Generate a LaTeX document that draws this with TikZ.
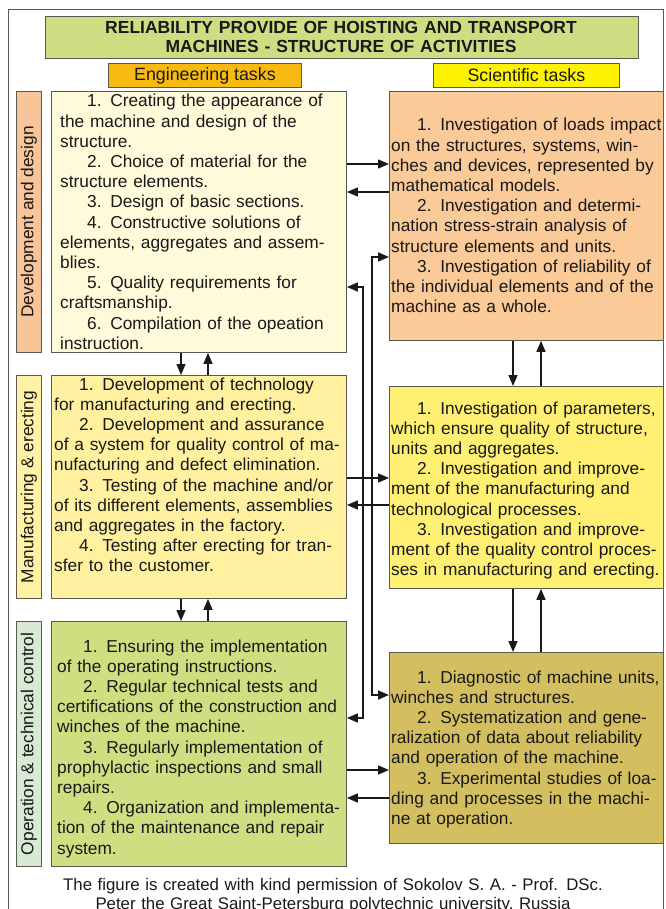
\documentclass[tikz,border=0pt]{standalone}
\usepackage{fontspec}
\setmainfont{Liberation Sans}
\usetikzlibrary{arrows.meta}
\definecolor{titlegreen}{RGB}{206,221,130}
\definecolor{engorange}{RGB}{248,186,16}
\definecolor{sciyellow}{RGB}{255,242,0}
\definecolor{sideA}{RGB}{248,196,154}
\definecolor{leftA}{RGB}{255,250,218}
\definecolor{rightA}{RGB}{250,202,152}
\definecolor{sideB}{RGB}{255,242,165}
\definecolor{leftB}{RGB}{255,241,160}
\definecolor{rightB}{RGB}{255,240,115}
\definecolor{sideC}{RGB}{214,234,212}
\definecolor{leftC}{RGB}{206,223,130}
\definecolor{rightC}{RGB}{211,191,96}
\definecolor{edge}{RGB}{90,90,80}
\definecolor{ink}{RGB}{25,25,25}
\begin{document}
\begin{tikzpicture}[x=1pt,y=-1pt,
  box/.style={draw=edge, line width=0.9pt, anchor=north west, inner sep=0pt},
  txt/.style={anchor=base west, inner sep=0pt, align=left, text=ink,
    font=\fontsize{17.3}{20.2}\selectfont},
  sidetxt/.style={rotate=90, inner sep=0pt, text=ink, font=\fontsize{17.3}{20}\selectfont},
  arr/.style={draw=ink, line width=1.4pt, -{Triangle[length=11pt,width=9pt]}},
  arrb/.style={draw=ink, line width=1.6pt, {Triangle[length=11pt,width=9pt]}-{Triangle[length=11pt,width=9pt]}}
]
\useasboundingbox (0,0) rectangle (665,909);
% outer frame
\draw[edge, line width=0.8pt] (8,9) rectangle (663.5,930);

% title and headers
\node[box, fill=titlegreen, minimum width=593pt, minimum height=42pt] (title) at (45,16) {};
\node[inner sep=0pt, text width=590pt, align=center, text=ink, font=\bfseries\fontsize{17.5}{19}\selectfont, anchor=base]
  (titletxt) at (341,34) {RELIABILITY PROVIDE OF HOISTING AND TRANSPORT\\MACHINES - STRUCTURE OF ACTIVITIES};
\node[box, fill=engorange, minimum width=193pt, minimum height=24pt] (eng) at (108,63) {};
\node[inner sep=0pt, text=ink, font=\fontsize{17.8}{20}\selectfont] (engtxt) at (eng.center) {Engineering tasks};
\node[box, fill=sciyellow, minimum width=186pt, minimum height=24pt] (sci) at (433,63) {};
\node[inner sep=0pt, text=ink, font=\fontsize{17.8}{20}\selectfont] (scitxt) at (sci.center) {Scientific tasks};

% side labels
\node[box, fill=sideA, minimum width=25pt, minimum height=261pt] (S1) at (16,91) {};
\node[sidetxt] (S1t) at (S1.center) {Development and design};
\node[box, fill=sideB, minimum width=25pt, minimum height=223pt] (S2) at (16,375) {};
\node[sidetxt] (S2t) at (S2.center) {Manufacturing \& erecting};
\node[box, fill=sideC, minimum width=25pt, minimum height=245pt] (S3) at (16,621) {};
\node[sidetxt] (S3t) at (S3.center) {Operation \& technical control};

% left boxes
\node[box, fill=leftA, minimum width=295pt, minimum height=261pt] (L1) at (51,91) {};
\node[txt, text width=300pt] (L1t) at (60,107) {%
\hspace*{27pt}1. Creating the appearance of\\
the machine and design of the\\
structure.\\
\hspace*{27pt}2. Choice of material for the\\
structure elements.\\
\hspace*{27pt}3. Design of basic sections.\\
\hspace*{27pt}4. Constructive solutions of\\
elements, aggregates and assem-\\
blies.\\
\hspace*{27pt}5. Quality requirements for\\
craftsmanship.\\
\hspace*{27pt}6. Compilation of the opeation\\
instruction.};

\node[box, fill=leftB, minimum width=295pt, minimum height=223pt] (L2) at (51,375) {};
\node[txt, text width=300pt] (L2t) at (54,390) {%
\hspace*{25pt}1. Development of technology\\
for manufacturing and erecting.\\
\hspace*{25pt}2. Development and assurance\\
of a system for quality control of ma-\\
nufacturing and defect elimination.\\
\hspace*{25pt}3. Testing of the machine and/or\\
of its different elements, assemblies\\
and aggregates in the factory.\\
\hspace*{25pt}4. Testing after erecting for tran-\\
sfer to the customer.};

\node[box, fill=leftC, minimum width=295pt, minimum height=245pt] (L3) at (51,621) {};
\node[txt, text width=300pt] (L3t) at (57,652) {%
\hspace*{26pt}1. Ensuring the implementation\\
of the operating instructions.\\
\hspace*{26pt}2. Regular technical tests and\\
certifications of the construction and\\
winches of the machine.\\
\hspace*{26pt}3. Regularly implementation of\\
prophylactic inspections and small\\
repairs.\\
\hspace*{26pt}4. Organization and implementa-\\
tion of the maintenance and repair\\
system.};

% right boxes
\node[box, fill=rightA, minimum width=274pt, minimum height=249pt] (R1) at (389,91) {};
\node[txt, text width=280pt] (R1t) at (391,131) {%
\hspace*{26pt}1. Investigation of loads impact\\
on the structures, systems, win-\\
ches and devices, represented by\\
mathematical models.\\
\hspace*{26pt}2. Investigation and determi-\\
nation stress-strain analysis of\\
structure elements and units.\\
\hspace*{26pt}3. Investigation of reliability of\\
the individual elements and of the\\
machine as a whole.};

\node[box, fill=rightB, minimum width=274pt, minimum height=202pt] (R2) at (389,386) {};
\node[txt, text width=280pt] (R2t) at (391,414) {%
\hspace*{26pt}1. Investigation of parameters,\\
which ensure quality of structure,\\
units and aggregates.\\
\hspace*{26pt}2. Investigation and improve-\\
ment of the manufacturing and\\
technological processes.\\
\hspace*{26pt}3. Investigation and improve-\\
ment of the quality control proces-\\
ses in manufacturing and erecting.};

\node[box, fill=rightC, minimum width=274pt, minimum height=191pt] (R3) at (389,652) {};
\node[txt, text width=280pt] (R3t) at (391,683) {%
\hspace*{26pt}1. Diagnostic of machine units,\\
winches and structures.\\
\hspace*{26pt}2. Systematization and gene-\\
ralization of data about reliability\\
and operation of the machine.\\
\hspace*{26pt}3. Experimental studies of loa-\\
ding and processes in the machi-\\
ne at operation.};

% footer
\node[inner sep=0pt, text width=640pt, align=center, text=ink, font=\fontsize{16.8}{19.5}\selectfont, anchor=base]
  (foot) at (333,890) {The figure is created with kind permission of Sokolov S. A. - Prof. DSc.\\
Peter the Great Saint-Petersburg polytechnic university, Russia};

% horizontal connectors
\draw[arr] (L1.east |- 0,164) -- (R1.west |- 0,164);
\draw[arr] (R1.west |- 0,192) -- (L1.east |- 0,192);
\draw[arr] (L2.east |- 0,478) -- (R2.west |- 0,478);
\draw[arr] (R2.west |- 0,505) -- (L2.east |- 0,505);
\draw[arr] (L3.east |- 0,770) -- (R3.west |- 0,770);
\draw[arr] (R3.west |- 0,798) -- (L3.east |- 0,798);

% long connectors
\draw[arrb] (L1.east |- 0,287) -- (363,287) -- (363,718) -- (L3.east |- 0,718);
\draw[arrb] (R1.west |- 0,257) -- (372,257) -- (372,695) -- (R3.west |- 0,695);

% vertical connectors
\draw[arr] (L1.south -| 181,0) -- (L2.north -| 181,0);
\draw[arr] (L2.north -| 208,0) -- (L1.south -| 208,0);
\draw[arr] (L2.south -| 181,0) -- (L3.north -| 181,0);
\draw[arr] (L3.north -| 208,0) -- (L2.south -| 208,0);
\draw[arr] (R1.south -| 513,0) -- (R2.north -| 513,0);
\draw[arr] (R2.north -| 541,0) -- (R1.south -| 541,0);
\draw[arr] (R2.south -| 513,0) -- (R3.north -| 513,0);
\draw[arr] (R3.north -| 541,0) -- (R2.south -| 541,0);
\end{tikzpicture}
\end{document}
